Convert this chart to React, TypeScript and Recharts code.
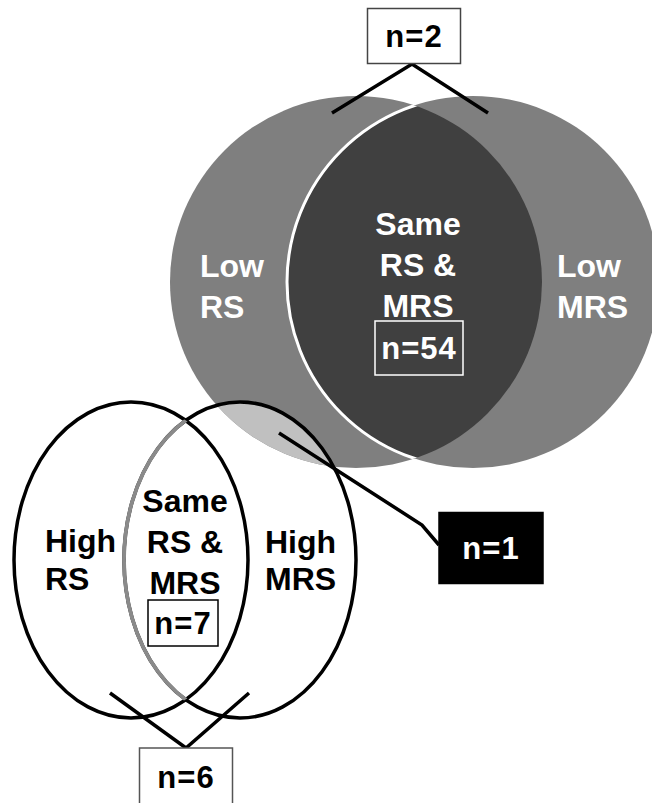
import React from 'react';
import { ScatterChart, Scatter, XAxis, YAxis } from 'recharts';

const W = 652;
const H = 803;
const FONT = '"Liberation Sans", Arial, sans-serif';

// the four groups of the diagram (chart units = px, y grows downward)
const setNames = ['Low RS', 'Low MRS', 'High RS', 'High MRS'];
const setCx = [356, 473, 131, 240];
const setCy = [282, 282, 560, 560];
const setRx = [186, 186, 117, 116];
const setRy = [186, 186, 158, 158];

// region labels
const regionLines = [['Low', 'RS'], ['Low', 'MRS'], ['Same', 'RS &', 'MRS'], ['High', 'RS'], ['Same', 'RS &', 'MRS'], ['High', 'MRS']];
const regionX = [200, 557, 418, 45, 185, 265];
const regionY = [277, 277, 235, 552, 512, 553];
const regionAnchor = ['start', 'start', 'middle', 'start', 'middle', 'start'];
const regionColor = ['#fff', '#fff', '#fff', '#000', '#000', '#000'];
const regionGap = [41, 41, 41, 38, 41, 37];

// counts
const countLabels = ['n=2', 'n=54', 'n=1', 'n=7', 'n=6'];
const countX = [414, 419, 491, 183, 186];
const countY = [36, 348, 548, 623, 777];
const countW = [93, 88, 104, 70, 93];
const countH = [55, 54, 71, 46, 58];
const countFill = ['#fff', 'none', '#000', '#fff', '#fff'];
const countStroke = ['#444', '#fff', '#000', '#000', '#555'];
const countText = ['#000', '#fff', '#fff', '#000', '#000'];

// connector polylines (count box -> regions)
const connectors = [
  [[332, 113], [412, 64], [488, 113]],
  [[279, 433], [422, 525], [439, 545]],
  [[110, 693], [186, 748], [249, 693]],
];

const sets = setNames.map((name, i) => ({ name, x: setCx[i], y: setCy[i], rx: setRx[i], ry: setRy[i], id: `clip-${i}` }));
const regions = regionLines.map((lines, i) => ({ lines, x: regionX[i], y: regionY[i], anchor: regionAnchor[i], color: regionColor[i], gap: regionGap[i] }));
const counts = countLabels.map((label, i) => ({ label, x: countX[i], y: countY[i], w: countW[i], h: countH[i], fill: countFill[i], stroke: countStroke[i], color: countText[i] }));
const connectorData = connectors.map((pts) => pts.map(([x, y]) => ({ x, y })));

const ClipDef = (props: any) => {
  const { cx, cy, payload } = props;
  return (
    <defs>
      <clipPath id={payload.id}>
        <ellipse cx={cx} cy={cy} rx={payload.rx} ry={payload.ry} />
      </clipPath>
    </defs>
  );
};

const ellipseShape = (fill: string, stroke: string, strokeWidth: number, clip?: string) => (props: any) => {
  const { cx, cy, payload } = props;
  return (
    <ellipse
      cx={cx}
      cy={cy}
      rx={payload.rx}
      ry={payload.ry}
      fill={fill}
      stroke={stroke}
      strokeWidth={strokeWidth}
      clipPath={clip ? `url(#${clip})` : undefined}
    />
  );
};

const RegionLabel = (props: any) => {
  const { cx, cy, payload } = props;
  return (
    <text x={cx} y={cy} textAnchor={payload.anchor} fill={payload.color} fontFamily={FONT} fontWeight="bold" fontSize={32}>
      {payload.lines.map((l: string, i: number) => (
        <tspan key={i} x={cx} y={cy + i * payload.gap}>{l}</tspan>
      ))}
    </text>
  );
};

const CountBox = (props: any) => {
  const { cx, cy, payload } = props;
  return (
    <g>
      <rect x={cx - payload.w / 2} y={cy - payload.h / 2} width={payload.w} height={payload.h} fill={payload.fill} stroke={payload.stroke} strokeWidth={1.5} />
      <text x={cx} y={cy + 11} textAnchor="middle" fill={payload.color} fontFamily={FONT} fontWeight="bold" fontSize={31} letterSpacing={1}>
        {payload.label}
      </text>
    </g>
  );
};

const NoDot = () => <g />;

export default function App() {
  return (
    <div style={{ position: 'absolute', left: 0, top: 0, width: W, height: H, background: '#fff' }}>
      <ScatterChart width={W} height={H} margin={{ top: 0, right: 0, bottom: 0, left: 0 }}>
        <XAxis type="number" dataKey="x" domain={[0, W]} hide allowDataOverflow />
        <YAxis type="number" dataKey="y" domain={[0, H]} reversed hide allowDataOverflow />
        <Scatter data={sets} shape={ClipDef} isAnimationActive={false} />
        {/* big circles */}
        <Scatter data={sets.slice(0, 2)} shape={ellipseShape('#7f7f7f', 'none', 0)} isAnimationActive={false} />
        <Scatter data={sets.slice(1, 2)} shape={ellipseShape('#404040', '#fff', 3, 'clip-0')} isAnimationActive={false} />
        <Scatter data={sets.slice(3, 4)} shape={ellipseShape('#c0c0c0', 'none', 0, 'clip-0')} isAnimationActive={false} />
        {/* small ellipses */}
        <Scatter data={sets.slice(2, 4)} shape={ellipseShape('none', '#000', 3.5)} isAnimationActive={false} />
        <Scatter data={sets.slice(3, 4)} shape={ellipseShape('none', '#8a8a8a', 3.8, 'clip-2')} isAnimationActive={false} />
        {connectorData.map((pts, i) => (
          <Scatter
            key={i}
            data={pts}
            line={{ stroke: '#000', strokeWidth: 3.5 }}
            lineType="joint"
            shape={NoDot}
            isAnimationActive={false}
          />
        ))}
        <Scatter data={regions} shape={RegionLabel} isAnimationActive={false} />
        <Scatter data={counts} shape={CountBox} isAnimationActive={false} />
      </ScatterChart>
    </div>
  );
}
